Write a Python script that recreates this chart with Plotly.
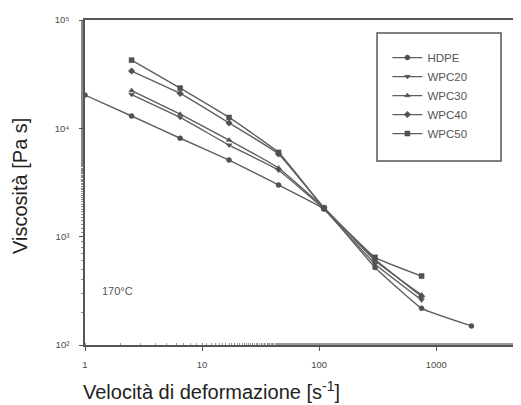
import plotly.graph_objects as go

# Data
shear_hdpe = [1, 2.5, 6.5, 17, 45, 110, 300, 750, 2000]
visc_hdpe = [20300, 13000, 8100, 5100, 3000, 1800, 520, 218, 150]

shear_wpc = [2.5, 6.5, 17, 45, 110, 300, 750]
visc_wpc20 = [20500, 12600, 7000, 4100, 1800, 560, 260]
visc_wpc30 = [22300, 13500, 7800, 4300, 1850, 600, 290]
visc_wpc40 = [33800, 21000, 11200, 5800, 1840, 620, 280]
visc_wpc50 = [42600, 23500, 12600, 6000, 1840, 645, 433]

series_names = ["HDPE", "WPC20", "WPC30", "WPC40", "WPC50"]
series_symbols = ["circle", "triangle-down", "triangle-up", "diamond", "square"]

y_tickvals = [100, 1000, 10000, 100000]
y_ticktext = ["10²", "10³", "10⁴", "10⁵"]
x_tickvals = [1, 10, 100, 1000]
x_ticktext = ["1", "10", "100", "1000"]

xs = [shear_hdpe, shear_wpc, shear_wpc, shear_wpc, shear_wpc]
ys = [visc_hdpe, visc_wpc20, visc_wpc30, visc_wpc40, visc_wpc50]

fig = go.Figure()
for name, sym, x, y in zip(series_names, series_symbols, xs, ys):
    fig.add_trace(go.Scatter(
        x=x, y=y, name=name, mode="lines+markers",
        line=dict(color="#5e5e5e", width=1.4, shape="spline", smoothing=0.3),
        marker=dict(symbol=sym, size=5, color="#505050",
                    line=dict(color="#505050", width=0.5)),
    ))

fig.add_annotation(x=0.13, y=2.5, xref="x", yref="y", text="170°C",
                   showarrow=False, xanchor="left",
                   font=dict(family="Liberation Sans, Arial", size=11, color="#555555"))

title_font = dict(family="Liberation Sans, Arial", size=20, color="#222222")
fig.add_annotation(x=0.292, y=-0.1415, xref="paper", yref="paper",
                   text="Velocità di deformazione [s<sup>-1</sup>]",
                   showarrow=False, xanchor="center", yanchor="middle",
                   font=title_font)
fig.add_annotation(x=-0.150, y=0.49, xref="paper", yref="paper",
                   text="Viscosità [Pa s]", textangle=-90,
                   showarrow=False, xanchor="center", yanchor="middle",
                   font=title_font)

# legend frame
fig.add_shape(type="rect", xref="paper", yref="paper",
              x0=0.676, x1=0.963, y0=0.566, y1=0.96,
              line=dict(color="#555555", width=1.5), fillcolor="white", layer="below")

axis_font = dict(family="Liberation Sans, Arial", size=9.5, color="#4a4a4a")
fig.update_layout(
    width=513, height=397,
    margin=dict(l=77, r=4, t=12, b=60),
    paper_bgcolor="white", plot_bgcolor="white",
    showlegend=True,
    legend=dict(x=0.70, y=0.929, xanchor="left", yanchor="top",
                borderwidth=0, bgcolor="rgba(0,0,0,0)",
                font=dict(family="Liberation Sans, Arial", size=11.5, color="#555555"),
                tracegroupgap=0, itemwidth=30),
    xaxis=dict(
        type="log", range=[0, 3.69], automargin=False,
        tickvals=x_tickvals, ticktext=x_ticktext, tickfont=axis_font,
        ticks="outside", ticklen=4, tickcolor="#555555", ticklabelstandoff=6,
        showline=True, linecolor="#555555", linewidth=1.5, mirror=True,
        showgrid=False, zeroline=False,
        minor=dict(ticks="inside", ticklen=2, tickcolor="#999999", showgrid=False),
    ),
    yaxis=dict(
        type="log", range=[2, 5], automargin=False,
        tickvals=y_tickvals, ticktext=y_ticktext, tickfont=axis_font,
        ticks="outside", ticklen=4, tickcolor="#555555", ticklabelstandoff=8,
        showline=True, linecolor="#555555", linewidth=1.5, mirror=True,
        showgrid=False, zeroline=False,
        minor=dict(ticks="outside", ticklen=2, tickcolor="#888888", showgrid=False),
    ),
)

fig.write_html("out.html")
